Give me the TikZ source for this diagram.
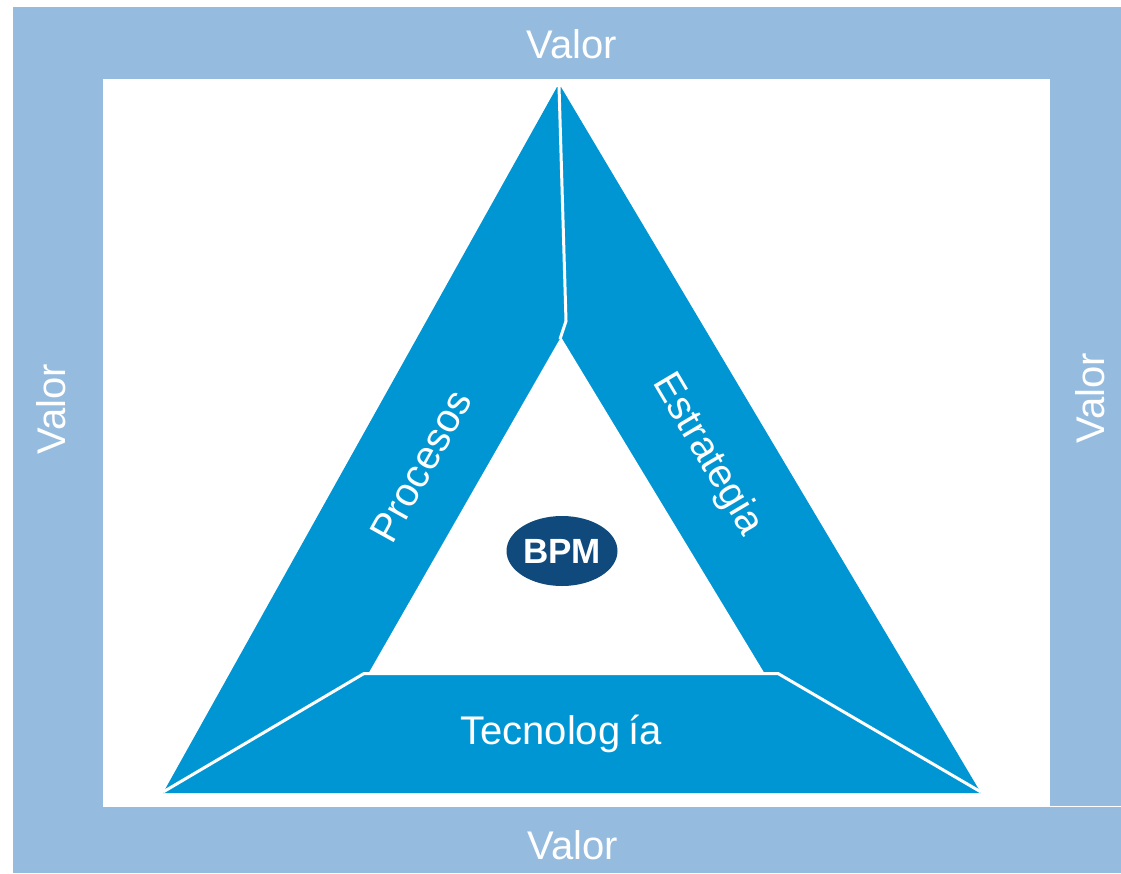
\documentclass[tikz,border=0pt]{standalone}
\usepackage{fontspec}
\setmainfont{Liberation Sans}
\usetikzlibrary{shapes.geometric}
\definecolor{framebl}{RGB}{149,187,223}
\definecolor{bandbl}{RGB}{0,150,212}
\definecolor{navy}{RGB}{16,74,124}
\begin{document}
\begin{tikzpicture}[x=1pt,y=-1pt,
  bar/.style={fill=framebl,draw=none},
  band/.style={fill=bandbl,draw=none},
  seam/.style={draw=white,line width=3pt,line join=miter},
  lbl/.style={text=white,inner sep=0pt,font=\fontsize{40}{48}\selectfont}]
\useasboundingbox (0,0) rectangle (1121,873);
\fill[white] (0,0) rectangle (1121,873);
% frame bars
\path[bar] (13,7) rectangle (1121,79);
\path[bar] (13,79) rectangle (103,873);
\path[bar] (103,807) rectangle (1121,873);
\path[bar] (1050,79) rectangle (1121,805.5);
% triangle band
\path[band] (557,87) -- (561,87) -- (981,793) -- (163,793) -- cycle;
\fill[white] (561,337) -- (764,672.5) -- (369,672.5) -- cycle;
% seams between the three sides
\coordinate (apex) at (559,86);
\coordinate (kink) at (566,321);
\coordinate (inapex) at (560,339);
\coordinate (bl) at (163,792);
\coordinate (blin) at (364,673.5);
\coordinate (brin) at (778,673.5);
\coordinate (br) at (981,792);
\draw[seam] (apex) -- (kink) -- (inapex);
\draw[seam] (bl) -- (blin) -- (brin) -- (br);
% labels
\node[lbl] (vtop) at (572,44) {Valor};
\node[lbl] (vbot) at (573,845) {Valor};
\node[lbl,rotate=90] (vleft) at (51,409) {Valor};
\node[lbl,rotate=90] (vright) at (1090,398) {Valor};
\node[lbl,rotate=60.9] (proc) at (421,466) {Procesos};
\node[lbl,rotate=-59.3] (estr) at (707,455) {Estrategia};
\node[lbl,anchor=base] (tecn) at (561,744) {Tecnolog\hspace{0.2em}ía};
\node[ellipse,fill=navy,minimum width=111pt,minimum height=70pt,inner sep=0pt] (bpmshape) at (562,551) {};
\node[text=white,inner sep=0pt,font=\fontsize{35}{42}\selectfont\bfseries] (bpm) at (bpmshape) {BPM};
\end{tikzpicture}
\end{document}
